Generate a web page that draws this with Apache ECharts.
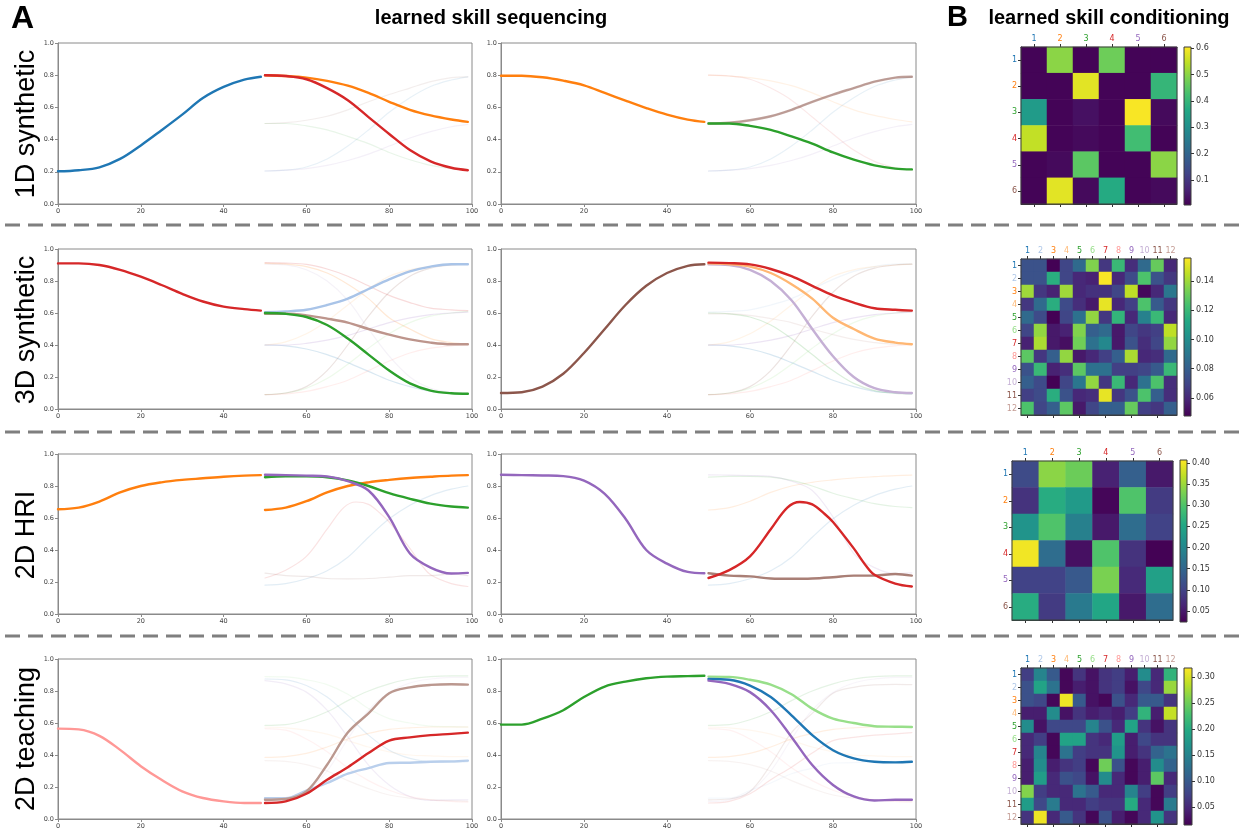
<!DOCTYPE html>
<html><head><meta charset="utf-8">
<script src="https://cdn.jsdelivr.net/npm/echarts@6/dist/echarts.min.js"></script>
<style>html,body{margin:0;padding:0;background:#fff}#c{width:1245px;height:834px}</style>
</head><body><div id="c"></div>
<script>
// ================= DATA =================
const stepsFirst = [0,5,10,15,20,25,30,35,40,45,49];
const stepsNext  = [50,55,60,65,70,75,80,85,90,95,99];
const xTickLabels = ['0','20','40','60','80','100'];
const yTickLabels = ['0.0','0.2','0.4','0.6','0.8','1.0'];
const rowNames = ['1D synthetic','3D synthetic','2D HRI','2D teaching'];

// 1D synthetic
const syn1D_firstLeft  = [0.203,0.21,0.228,0.28,0.364,0.458,0.555,0.658,0.727,0.772,0.79];
const syn1D_firstRight = [0.797,0.797,0.787,0.766,0.737,0.69,0.642,0.596,0.555,0.524,0.51];
const syn1D_s1 = [0.205,0.21,0.23,0.28,0.36,0.46,0.57,0.66,0.73,0.77,0.79];
const syn1D_s2 = [0.80,0.795,0.785,0.765,0.735,0.69,0.635,0.585,0.55,0.525,0.51];
const syn1D_s3 = [0.50,0.50,0.485,0.46,0.42,0.375,0.32,0.275,0.24,0.22,0.215];
const syn1D_s4 = [0.80,0.795,0.775,0.72,0.645,0.54,0.435,0.335,0.265,0.225,0.21];
const syn1D_s5 = [0.205,0.21,0.22,0.24,0.27,0.31,0.36,0.41,0.45,0.48,0.495];
const syn1D_s6 = [0.50,0.505,0.52,0.545,0.585,0.635,0.68,0.72,0.76,0.785,0.79];

// 3D synthetic
const syn3D_firstLeft  = [0.91,0.91,0.90,0.87,0.827,0.775,0.72,0.672,0.64,0.624,0.615];
const syn3D_firstRight = [0.10,0.105,0.14,0.22,0.35,0.50,0.65,0.77,0.85,0.895,0.905];
const syn3D_s1  = [0.40,0.395,0.375,0.34,0.29,0.235,0.18,0.14,0.11,0.10,0.095];
const syn3D_s2  = [0.605,0.61,0.62,0.65,0.69,0.75,0.81,0.86,0.89,0.905,0.905];
const syn3D_s3  = [0.91,0.905,0.89,0.85,0.78,0.69,0.57,0.50,0.44,0.415,0.405];
const syn3D_s4  = [0.40,0.42,0.47,0.55,0.65,0.75,0.83,0.87,0.89,0.90,0.905];
const syn3D_s5  = [0.60,0.595,0.575,0.525,0.44,0.34,0.24,0.16,0.115,0.098,0.095];
const syn3D_s6  = [0.09,0.10,0.13,0.19,0.28,0.38,0.47,0.54,0.58,0.60,0.61];
const syn3D_s7  = [0.915,0.912,0.904,0.875,0.83,0.77,0.71,0.665,0.63,0.62,0.615];
const syn3D_s8  = [0.09,0.095,0.11,0.14,0.18,0.24,0.30,0.35,0.38,0.395,0.40];
const syn3D_s9  = [0.40,0.40,0.41,0.43,0.46,0.50,0.54,0.57,0.59,0.60,0.605];
const syn3D_s10 = [0.905,0.90,0.87,0.80,0.68,0.50,0.33,0.20,0.13,0.105,0.10];
const syn3D_s11 = [0.09,0.10,0.14,0.24,0.40,0.58,0.73,0.83,0.88,0.90,0.905];
const syn3D_s12 = [0.595,0.595,0.585,0.565,0.54,0.50,0.465,0.435,0.415,0.405,0.405];

// 2D HRI
const hri_firstLeft  = [0.655,0.665,0.703,0.76,0.80,0.823,0.838,0.848,0.858,0.865,0.868];
const hri_firstRight = [0.87,0.868,0.866,0.862,0.834,0.751,0.595,0.40,0.315,0.263,0.255];
const hri_s1 = [0.18,0.19,0.22,0.27,0.355,0.48,0.595,0.68,0.74,0.78,0.80];
const hri_s2 = [0.65,0.665,0.705,0.76,0.80,0.823,0.838,0.85,0.858,0.865,0.868];
const hri_s3 = [0.855,0.86,0.86,0.855,0.835,0.80,0.755,0.72,0.69,0.672,0.665];
const hri_s4_steps = [50,55,60,65,69,72,75,78,80,85,88,90,95,99];
const hri_s4 = [0.225,0.274,0.36,0.53,0.665,0.70,0.685,0.625,0.575,0.41,0.30,0.245,0.19,0.172];
const hri_s5 = [0.87,0.868,0.865,0.86,0.83,0.772,0.606,0.378,0.29,0.253,0.257];
const hri_s6 = [0.255,0.24,0.235,0.222,0.22,0.222,0.23,0.24,0.24,0.25,0.24];

// 2D teaching
const teach_firstLeft  = [0.565,0.56,0.52,0.432,0.33,0.245,0.173,0.131,0.11,0.10,0.10];
const teach_firstRight = [0.59,0.59,0.627,0.68,0.762,0.828,0.859,0.88,0.89,0.893,0.895];
const teach_s1  = [0.875,0.87,0.834,0.762,0.648,0.524,0.43,0.379,0.358,0.354,0.358];
const teach_s2  = [0.13,0.13,0.178,0.225,0.283,0.318,0.35,0.352,0.358,0.36,0.365];
const teach_s3  = [0.385,0.39,0.41,0.45,0.50,0.535,0.56,0.57,0.575,0.575,0.575];
const teach_s4  = [0.575,0.57,0.555,0.53,0.49,0.45,0.42,0.40,0.395,0.39,0.39];
const teach_s5  = [0.585,0.59,0.62,0.67,0.74,0.80,0.845,0.875,0.89,0.895,0.895];
const teach_s6  = [0.89,0.888,0.87,0.84,0.78,0.69,0.627,0.60,0.58,0.577,0.575];
const teach_s7  = [0.10,0.11,0.158,0.245,0.324,0.412,0.49,0.51,0.524,0.532,0.54];
const teach_s8  = [0.565,0.555,0.50,0.42,0.32,0.24,0.18,0.14,0.12,0.11,0.105];
const teach_s9  = [0.865,0.845,0.793,0.68,0.513,0.337,0.213,0.141,0.116,0.12,0.12];
const teach_s10 = [0.11,0.12,0.17,0.30,0.50,0.68,0.79,0.85,0.875,0.885,0.885];
const teach_s11 = [0.12,0.125,0.172,0.339,0.54,0.66,0.786,0.823,0.838,0.842,0.84];
const teach_s12 = [0.365,0.36,0.34,0.30,0.24,0.19,0.15,0.13,0.12,0.115,0.11];

// learned skill conditioning matrices (row = current skill, col = next skill)
const labels6  = ['1','2','3','4','5','6'];
const labels12 = ['1','2','3','4','5','6','7','8','9','10','11','12'];
const cond1D = [
  [0.01,0.50,0.01,0.47,0.01,0.01],
  [0.01,0.01,0.58,0.01,0.01,0.40],
  [0.33,0.01,0.03,0.01,0.60,0.02],
  [0.55,0.01,0.02,0.01,0.42,0.01],
  [0.01,0.02,0.45,0.01,0.01,0.50],
  [0.01,0.58,0.02,0.37,0.01,0.02]];
const cond3D = [
  [0.075,0.075,0.048,0.07,0.085,0.135,0.065,0.12,0.062,0.085,0.13,0.06],
  [0.075,0.075,0.115,0.07,0.06,0.058,0.155,0.06,0.072,0.125,0.075,0.065],
  [0.14,0.065,0.058,0.14,0.06,0.063,0.063,0.07,0.145,0.05,0.06,0.09],
  [0.065,0.085,0.115,0.072,0.062,0.055,0.152,0.06,0.068,0.125,0.078,0.065],
  [0.085,0.072,0.048,0.07,0.088,0.138,0.065,0.118,0.06,0.095,0.12,0.06],
  [0.07,0.138,0.055,0.058,0.135,0.08,0.085,0.055,0.07,0.065,0.068,0.145],
  [0.058,0.142,0.055,0.052,0.132,0.088,0.098,0.055,0.075,0.062,0.07,0.138],
  [0.128,0.065,0.08,0.138,0.055,0.06,0.068,0.08,0.142,0.06,0.062,0.085],
  [0.075,0.12,0.058,0.062,0.128,0.088,0.088,0.068,0.068,0.07,0.078,0.12],
  [0.08,0.072,0.048,0.07,0.09,0.138,0.065,0.12,0.06,0.088,0.125,0.062],
  [0.068,0.072,0.115,0.075,0.06,0.062,0.152,0.065,0.075,0.125,0.08,0.062],
  [0.125,0.07,0.08,0.128,0.055,0.07,0.08,0.08,0.13,0.068,0.065,0.08]];
const condHRI = [
  [0.11,0.34,0.32,0.06,0.14,0.05],
  [0.08,0.26,0.23,0.03,0.30,0.09],
  [0.22,0.30,0.19,0.05,0.16,0.10],
  [0.40,0.16,0.04,0.30,0.08,0.025],
  [0.10,0.10,0.13,0.33,0.07,0.24],
  [0.26,0.09,0.18,0.25,0.05,0.16]];
const condTeach = [
  [0.07,0.15,0.10,0.02,0.06,0.03,0.06,0.07,0.04,0.16,0.05,0.21],
  [0.09,0.19,0.13,0.02,0.04,0.03,0.06,0.07,0.03,0.08,0.05,0.27],
  [0.09,0.08,0.02,0.31,0.10,0.03,0.02,0.09,0.05,0.10,0.10,0.06],
  [0.04,0.04,0.16,0.03,0.06,0.04,0.05,0.04,0.07,0.21,0.04,0.29],
  [0.16,0.03,0.08,0.08,0.08,0.15,0.09,0.05,0.19,0.06,0.03,0.06],
  [0.05,0.07,0.02,0.19,0.19,0.06,0.05,0.18,0.04,0.08,0.06,0.06],
  [0.05,0.15,0.02,0.13,0.07,0.06,0.06,0.17,0.04,0.06,0.11,0.13],
  [0.04,0.16,0.04,0.06,0.07,0.02,0.25,0.09,0.02,0.04,0.16,0.11],
  [0.04,0.18,0.05,0.09,0.08,0.03,0.16,0.05,0.02,0.04,0.24,0.05],
  [0.26,0.07,0.05,0.05,0.13,0.10,0.05,0.05,0.15,0.07,0.02,0.07],
  [0.18,0.08,0.14,0.05,0.05,0.07,0.06,0.06,0.20,0.05,0.02,0.14],
  [0.06,0.31,0.05,0.10,0.06,0.02,0.09,0.04,0.02,0.05,0.17,0.06]];
const cbRange1D = [0.005,0.605],  cbTicks1D = [0.1,0.2,0.3,0.4,0.5,0.6];
const cbRange3D = [0.0477,0.1557], cbTicks3D = [0.06,0.08,0.10,0.12,0.14];
const cbRangeHRI = [0.024,0.407], cbTicksHRI = [0.05,0.10,0.15,0.20,0.25,0.30,0.35,0.40];
const cbRangeTeach = [0.015,0.317], cbTicksTeach = [0.05,0.10,0.15,0.20,0.25,0.30];

// ================= STYLE / LAYOUT =================
const tab10 = ['#1f77b4','#ff7f0e','#2ca02c','#d62728','#9467bd','#8c564b'];
const tab20 = ['#1f77b4','#aec7e8','#ff7f0e','#ffbb78','#2ca02c','#98df8a','#d62728','#ff9896','#9467bd','#c5b0d5','#8c564b','#c49c94'];
const viridis = ['#440154','#482475','#414487','#355f8d','#2a788e','#21918c','#22a884','#44bf70','#7ad151','#bddf26','#fde725'];
const FONT = '"DejaVu Sans", sans-serif';
const panelX = [58, 501], panelW = [414, 415];

const rowsCfg = [
  {top:43, h:161, faint:0.10, colors:tab10,
   next:[syn1D_s1,syn1D_s2,syn1D_s3,syn1D_s4,syn1D_s5,syn1D_s6],
   panels:[{first:syn1D_firstLeft, fc:'#1f77b4', hl:[[2,'#ff7f0e',1],[4,'#d62728',1]]},
           {first:syn1D_firstRight, fc:'#ff7f0e', hl:[[6,'#8c564b',0.55],[3,'#2ca02c',1]]}]},
  {top:249, h:160, faint:0.17, colors:tab20,
   next:[syn3D_s1,syn3D_s2,syn3D_s3,syn3D_s4,syn3D_s5,syn3D_s6,syn3D_s7,syn3D_s8,syn3D_s9,syn3D_s10,syn3D_s11,syn3D_s12],
   panels:[{first:syn3D_firstLeft, fc:'#d62728', hl:[[2,'#a9c4e8',1],[12,'#bd958c',1],[5,'#2ca02c',1]]},
           {first:syn3D_firstRight, fc:'#8c564b', hl:[[10,'#c5b0d5',1],[3,'#ffb773',1],[7,'#d62728',1]]}]},
  {top:454, h:160, faint:0.13, colors:tab10,
   next:[hri_s1,hri_s2,hri_s3,hri_s4,hri_s5,hri_s6],
   nextSteps:{4:hri_s4_steps},
   panels:[{first:hri_firstLeft, fc:'#ff7f0e', hl:[[2,'#ff7f0e',1],[3,'#2ca02c',1],[5,'#9467bd',1]]},
           {first:hri_firstRight, fc:'#9467bd', hl:[[6,'#a97f76',1],[4,'#d62728',1]]}]},
  {top:659, h:160, faint:0.12, colors:tab20,
   next:[teach_s1,teach_s2,teach_s3,teach_s4,teach_s5,teach_s6,teach_s7,teach_s8,teach_s9,teach_s10,teach_s11,teach_s12],
   panels:[{first:teach_firstLeft, fc:'#ff9896', hl:[[2,'#b9cfec',1],[11,'#bb988f',1],[7,'#d62728',1]]},
           {first:teach_firstRight, fc:'#2ca02c', hl:[[6,'#98df8a',1],[1,'#1f77b4',1],[9,'#9467bd',1]]}]}
];

const heatCfg = [
  {m:cond1D, labels:labels6, colors:tab10, range:cbRange1D, ticks:cbTicks1D, dec:1,
   left:1021, top:47, w:156, h:157, cb:{left:1184, top:47, w:7, h:158}},
  {m:cond3D, labels:labels12, colors:tab20, range:cbRange3D, ticks:cbTicks3D, dec:2,
   left:1021, top:259, w:156, h:156, cb:{left:1184, top:258, w:7, h:158}},
  {m:condHRI, labels:labels6, colors:tab10, range:cbRangeHRI, ticks:cbTicksHRI, dec:2,
   left:1012, top:461, w:161, h:159, cb:{left:1180, top:460, w:7, h:162}},
  {m:condTeach, labels:labels12, colors:tab20, range:cbRangeTeach, ticks:cbTicksTeach, dec:2,
   left:1021, top:668, w:156, h:156, cb:{left:1184, top:668, w:8, h:157}}
];

// ================= BUILD =================
const option = {animation:false, backgroundColor:'#ffffff', grid:[], xAxis:[], yAxis:[], series:[], visualMap:[], graphic:[]};
const pair = (xs, ys) => xs.map((x, i) => [x, ys[i]]);
const spine = '#8a8a8a';
function lineSeries(gi, data, color, width, op, z) {
  return {type:'line', xAxisIndex:gi, yAxisIndex:gi, data, showSymbol:false, smooth:0.35, silent:true, z:z,
    lineStyle:{color, width, opacity:op, cap:'round', join:'round'}, itemStyle:{color}};
}

rowsCfg.forEach(row => {
  const stepsOf = (k) => (row.nextSteps && row.nextSteps[k]) || stepsNext;  // k is 1-based skill id
  row.panels.forEach((p, pi) => {
    const gi = option.grid.length;
    option.grid.push({left:panelX[pi], top:row.top, width:panelW[pi], height:row.h, show:true,
      borderColor:spine, borderWidth:1, backgroundColor:'transparent'});
    option.xAxis.push({gridIndex:gi, type:'value', min:0, max:100, interval:20,
      axisLine:{show:true, lineStyle:{color:spine, width:1}},
      axisTick:{show:true, length:3, lineStyle:{color:spine}},
      axisLabel:{fontSize:6.5, color:'#444', margin:4, fontFamily:FONT,
        formatter:(v)=>xTickLabels[Math.round(v/20)]},
      splitLine:{show:false}});
    option.yAxis.push({gridIndex:gi, type:'value', min:0, max:1, interval:0.2,
      axisLine:{show:true, lineStyle:{color:spine, width:1}},
      axisTick:{show:true, length:3, lineStyle:{color:spine}},
      axisLabel:{fontSize:6.5, color:'#444', margin:4, fontFamily:FONT,
        formatter:(v)=>yTickLabels[Math.round(v/0.2)]},
      splitLine:{show:false}});
    row.next.forEach((ys, k) => option.series.push(lineSeries(gi, pair(stepsOf(k+1), ys), row.colors[k], 1.2, row.faint, 2)));
    option.series.push(lineSeries(gi, pair(stepsFirst, p.first), p.fc, 2.4, 1, 3));
    p.hl.forEach(([k, c, op]) => option.series.push(lineSeries(gi, pair(stepsOf(k), row.next[k-1]), c, 2.4, op, 3)));
  });
});

const hmAxisColor = '#333';
heatCfg.forEach((h, i) => {
  const gi = option.grid.length;
  option.grid.push({left:h.left, top:h.top, width:h.w, height:h.h, show:true, borderColor:'#3c3c3c', borderWidth:1, z:5});
  const labelColor = (v) => h.colors[parseInt(v, 10) - 1];
  const xi = option.xAxis.length;
  option.xAxis.push({gridIndex:gi, type:'category', data:h.labels, position:'top',
    axisLine:{show:true, lineStyle:{color:hmAxisColor}},
    axisTick:{show:true, alignWithLabel:true, length:3, lineStyle:{color:hmAxisColor}},
    axisLabel:{fontSize:8, margin:4, color:labelColor, fontFamily:FONT, interval:0},
    splitLine:{show:false}});
  option.xAxis.push({gridIndex:gi, type:'category', data:h.labels, position:'bottom',
    axisLine:{show:true, lineStyle:{color:hmAxisColor}},
    axisTick:{show:true, alignWithLabel:true, length:3, lineStyle:{color:hmAxisColor}},
    axisLabel:{show:false}, splitLine:{show:false}});
  const yi = option.yAxis.length;
  option.yAxis.push({gridIndex:gi, type:'category', data:h.labels, inverse:true,
    axisLine:{show:true, lineStyle:{color:hmAxisColor}},
    axisTick:{show:true, alignWithLabel:true, length:3, lineStyle:{color:hmAxisColor}},
    axisLabel:{fontSize:8, margin:4, color:labelColor, fontFamily:FONT, interval:0},
    splitLine:{show:false}});
  const data = [];
  h.m.forEach((row, r) => row.forEach((v, c) => data.push([c, r, v])));
  const si = option.series.length;
  option.series.push({type:'heatmap', xAxisIndex:xi, yAxisIndex:yi, data, silent:true, itemStyle:{borderWidth:0}});
  option.visualMap.push({type:'continuous', show:false, seriesIndex:si, dimension:2,
    min:h.range[0], max:h.range[1], inRange:{color:viridis}});

  // colour bar
  const cgi = option.grid.length;
  option.grid.push({left:h.cb.left, top:h.cb.top, width:h.cb.w, height:h.cb.h, show:true, borderColor:'#3c3c3c', borderWidth:1, z:5});
  const cxi = option.xAxis.length;
  option.xAxis.push({gridIndex:cgi, type:'category', data:['cb'], show:false});
  const cyi = option.yAxis.length;
  option.yAxis.push({gridIndex:cgi, type:'value', min:h.range[0], max:h.range[1], position:'right',
    axisLine:{show:false}, splitLine:{show:false},
    axisTick:{show:true, length:3, customValues:h.ticks, lineStyle:{color:hmAxisColor}},
    axisLabel:{fontSize:8, margin:5, color:'#333', fontFamily:FONT, customValues:h.ticks,
      formatter:(v)=>Number(v).toFixed(h.dec)}});
  option.series.push({type:'bar', xAxisIndex:cxi, yAxisIndex:cyi, stack:'cb'+i, data:[h.range[0]],
    barWidth:'100%', silent:true, itemStyle:{color:'rgba(0,0,0,0)'}});
  option.series.push({type:'bar', xAxisIndex:cxi, yAxisIndex:cyi, stack:'cb'+i, data:[h.range[1]-h.range[0]],
    barWidth:'100%', silent:true,
    itemStyle:{color:new echarts.graphic.LinearGradient(0,1,0,0, viridis.map((c,k)=>({offset:k/(viridis.length-1), color:c})))}});
});

// texts & separators
const TFONT = '"Liberation Sans", Arial, sans-serif';
option.graphic.push(
  {type:'text', x:11, y:19, style:{text:'A', font:'bold 32px '+TFONT, fill:'#000', align:'left', verticalAlign:'middle'}},
  {type:'text', x:491, y:18, style:{text:'learned skill sequencing', font:'bold 20px '+TFONT, fill:'#000', align:'center', verticalAlign:'middle'}},
  {type:'text', x:947, y:18, style:{text:'B', font:'bold 29px '+TFONT, fill:'#000', align:'left', verticalAlign:'middle'}},
  {type:'text', x:1109, y:18, style:{text:'learned skill conditioning', font:'bold 20px '+TFONT, fill:'#000', align:'center', verticalAlign:'middle'}}
);
const rowLabelY = [124, 330, 535, 739];
rowNames.forEach((t, i) => option.graphic.push(
  {type:'text', x:27, y:rowLabelY[i], rotation:Math.PI/2,
   style:{text:t, font:'27px '+TFONT, fill:'#000', align:'center', verticalAlign:'middle'}}));
[225, 432, 636].forEach(y => option.graphic.push(
  {type:'line', shape:{x1:5, y1:y, x2:1240, y2:y}, style:{stroke:'#7f7f7f', lineWidth:3, lineDash:[15,8]}}));

const chart = echarts.init(document.getElementById('c'), null, {renderer:'canvas'});
chart.setOption(option);
</script></body></html>
